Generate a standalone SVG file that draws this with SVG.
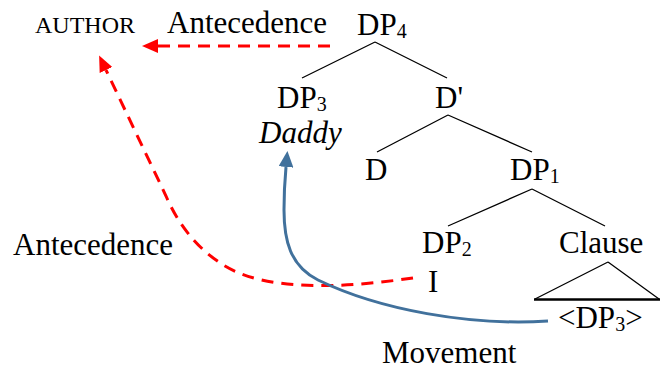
<svg xmlns="http://www.w3.org/2000/svg" width="661" height="370" viewBox="0 0 661 370" font-family="'Liberation Serif', 'DejaVu Serif', serif">
<style>
text{font-family:'Liberation Serif','DejaVu Serif',serif;font-size:31px;fill:#000}
.sub{font-size:20px}
.sc{font-size:24px}
.it{font-style:italic}
.tree{stroke:#000;stroke-width:1.3;fill:none}
.ant{stroke:#FF0000;stroke-width:3;fill:none;stroke-dasharray:12 8}
.mov{stroke:#41719C;stroke-width:3;fill:none}
</style>
<defs>
<marker id="ra" markerWidth="16" markerHeight="14" refX="0" refY="7" orient="auto" markerUnits="userSpaceOnUse"><path d="M0,0 L16,7 L0,14 z" fill="#FF0000"/></marker>
<marker id="ba" markerWidth="16" markerHeight="15" refX="0" refY="7.5" orient="auto" markerUnits="userSpaceOnUse"><path d="M0,0 L16,7.5 L0,15 z" fill="#41719C"/></marker>
</defs>
<rect width="661" height="370" fill="#fff"/>
<g id="author"><text x="35" y="33" class="sc">AUTHOR</text></g>
<g id="antecedence-top"><text x="167" y="33">Antecedence</text></g>
<g id="dp4"><text x="357" y="35">DP<tspan class="sub" dy="3">4</tspan></text></g>
<g id="dp3"><text x="277" y="108">DP<tspan class="sub" dy="3">3</tspan></text><text x="259" y="143" class="it">Daddy</text></g>
<g id="dbar"><text x="435" y="108">D'</text></g>
<g id="d"><text x="365" y="180">D</text></g>
<g id="dp1"><text x="510" y="180">DP<tspan class="sub" dy="3">1</tspan></text></g>
<g id="dp2"><text x="422" y="253">DP<tspan class="sub" dy="3">2</tspan></text><text x="428" y="292">I</text></g>
<g id="clause"><text x="559" y="253">Clause</text><path class="tree" d="M608,262 L535,299 M608,262 L659,299"/><path d="M534,299.5 L660,299.5" stroke="#000" stroke-width="2.5"/><text x="558" y="328">&lt;DP<tspan class="sub" dy="3">3</tspan><tspan dy="-3">&gt;</tspan></text></g>
<g id="antecedence-left"><text x="13" y="255">Antecedence</text></g>
<g id="movement"><text x="382" y="363">Movement</text></g>
<g id="connectors">
<path class="tree" d="M375,42 L302,78 M375,42 L447,78"/>
<path class="tree" d="M448,115 L377,152 M448,115 L532,152"/>
<path class="tree" d="M532,189 L448,226 M532,189 L605,226"/>
<path class="ant" d="M330,46 L158,46" marker-end="url(#ra)"/>
<path class="ant" d="M413,278 C350,287 270,293 225,266 C197,249 178,224 166,196 L106,70" marker-end="url(#ra)"/>
<path class="mov" d="M548,321 C470,326 380,310 318,280 C290,266 284,240 284,210 C284,190 285,178 286,167" marker-end="url(#ba)"/>
</g>
</svg>
